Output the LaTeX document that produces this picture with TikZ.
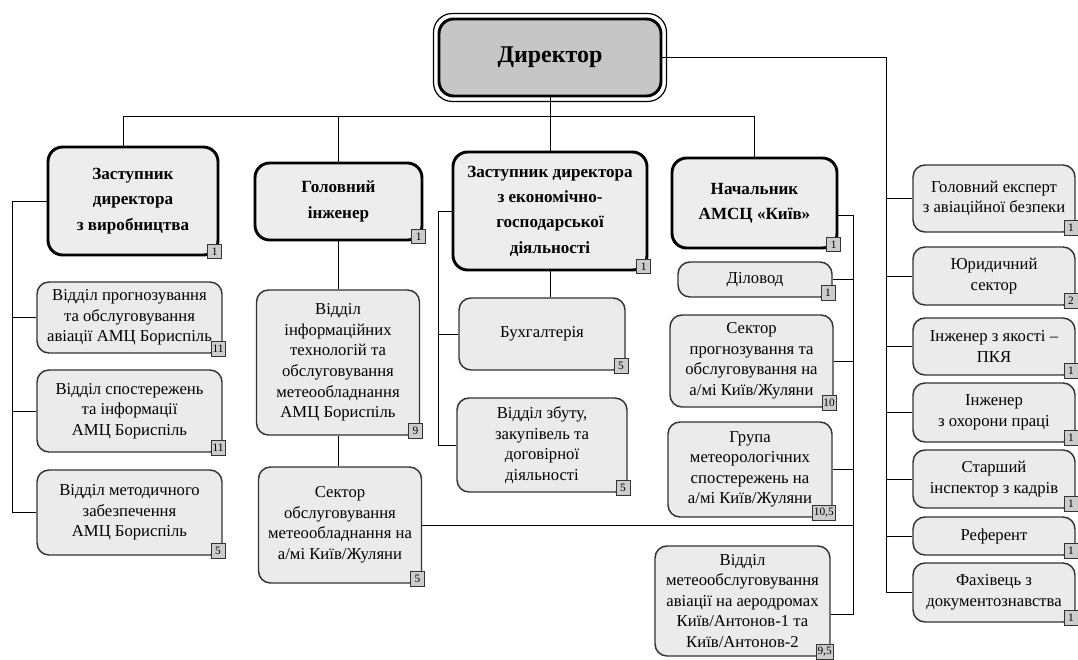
\documentclass[tikz,border=0pt]{standalone}
\usepackage{fontspec}
\setmainfont{Liberation Serif}
\usepackage{tikz}
\usetikzlibrary{backgrounds}
\tikzstyle{head}=[draw=black, line width=2.2pt, fill=gray!14, rounded corners=11pt, align=center, font=\fontsize{12.8}{19}\selectfont\bfseries, inner sep=2pt]
\tikzstyle{unit}=[draw=black!80, line width=1.1pt, fill=gray!16, rounded corners=9pt, align=center, font=\fontsize{12.5}{15.4}\selectfont, inner sep=2pt]
\tikzstyle{num}=[draw=black!80, line width=0.6pt, fill=gray!40, font=\fontsize{8.5}{9}\selectfont, inner sep=1pt, minimum width=10.5pt, minimum height=11pt]
\tikzstyle{wire}=[line width=1.6pt, black]
\tikzset{sz/.style 2 args={minimum width=#1*0.75pt, minimum height=#2*0.75pt}}

\begin{document}
\begin{tikzpicture}[x=0.75pt,y=-0.75pt]
\useasboundingbox (0,0) rectangle (1078,660);
% top
\node[draw=black, line width=2.2pt, fill=gray!45, rounded corners=11pt, sz={222}{77},
  font=\fontsize{18}{20}\selectfont\bfseries] (dir) at (550,57.5) {Директор};
\draw[line width=0.9pt, rounded corners=14pt] ([shift={(-3pt,3pt)}]dir.north west) rectangle ([shift={(3pt,-3pt)}]dir.south east);
% deputies
\node[head, sz={170}{108}] (dep1) at (133,201) {Заступник\\директора\\з виробництва};
\node[head, sz={167}{77}] (eng) at (338.5,201.5) {Головний\\інженер};
\node[head, sz={194}{118}] (dep2) at (550,211) {Заступник директора\\з економічно-\\господарської\\діяльності};
\node[head, sz={165}{90}] (chief) at (754.5,203) {Начальник\\АМСЦ «Київ»};
% units
\node[unit, sz={185}{71}] (fc) at (129.5,317.5) {Відділ прогнозування\\та обслуговування\\авіації АМЦ Бориспіль};
\node[unit, sz={185}{82}] (obs) at (129.5,411) {Відділ спостережень\\та інформації\\АМЦ Бориспіль};
\node[unit, sz={185}{85}] (meth) at (129.5,512.5) {Відділ методичного\\забезпечення\\АМЦ Бориспіль};
\node[unit, sz={163}{145}] (it) at (338,362.5) {Відділ\\інформаційних\\технологій та\\обслуговування\\метеообладнання\\АМЦ Бориспіль};
\node[unit, sz={163}{116}] (svc) at (340,525) {Сектор\\обслуговування\\метеообладнання на\\а/мі Київ/Жуляни};
\node[unit, sz={166}{72}] (acc) at (542,334) {Бухгалтерія};
\node[unit, sz={170}{94}] (sales) at (542,445) {Відділ збуту,\\закупівель та\\договірної\\діяльності};
\node[unit, sz={154}{35}] (clerk) at (755,279.5) {Діловод};
\node[unit, sz={163}{92}] (fcs) at (751.5,361) {Сектор\\прогнозування та\\обслуговування на\\а/мі Київ/Жуляни};
\node[unit, sz={164}{95}] (grp) at (750,469.5) {Група\\метеорологічних\\спостережень на\\а/мі Київ/Жуляни};
\node[unit, sz={175}{110}] (ant) at (742.5,601) {Відділ\\метеообслуговування\\авіації на аеродромах\\Київ/Антонов-1 та\\Київ/Антонов-2};
% right column
\node[unit, sz={162}{67}] (sec) at (994,198.5) {Головний експерт\\з авіаційної безпеки};
\node[unit, sz={162}{58}] (law) at (994,276) {Юридичний\\сектор};
\node[unit, sz={162}{57}] (qual) at (994,346.5) {Інженер з якості –\\ПКЯ};
\node[unit, sz={162}{59}] (safe) at (994,412.5) {Інженер\\з охорони праці};
\node[unit, sz={162}{58}] (hr) at (994,479) {Старший\\інспектор з кадрів};
\node[unit, sz={162}{38}] (ref) at (994,536) {Референт};
\node[unit, sz={162}{59}] (doc) at (994,592.5) {Фахівець з\\документознавства};
% staff numbers
\foreach \b/\n in {dep1/1,eng/1,dep2/1,chief/1,fc/11,obs/11,meth/5,it/9,svc/5,acc/5,sales/5,
  clerk/1,fcs/10,grp/{10,5},ant/{9,5},sec/1,law/2,qual/1,safe/1,hr/1,ref/1,doc/1}
  \node[num, anchor=south east] (n\b) at ([xshift=2pt,yshift=-2pt]\b.south east) {\n};
% connectors
\coordinate (lbus) at (12,0);
\coordinate (mbus) at (438,0);
\coordinate (cbus) at (853,0);
\coordinate (rbus) at (886,0);
\begin{scope}[on background layer, wire]
\draw ([xshift=-7.5pt]dep1.north) -- ++(0,-29) -| (chief.north);
\draw (eng.north) -- ++(0,-45);
\draw (dir.south) -- (dep2.north);
\draw (dir.east) -| (doc.west -| rbus) -- (doc.west);
\foreach \b in {sec,law,qual,safe,hr,ref} \draw (\b.west -| rbus) -- (\b.west);
\draw (dep1.west) -| (meth.west -| lbus) -- (meth.west);
\foreach \b in {fc,obs} \draw (\b.west -| lbus) -- (\b.west);
\draw (eng.south) -- (eng.south |- it.north);
\draw (it.south) -- (it.south |- svc.north);
\draw (dep2.west) -| (sales.west -| mbus) -- (sales.west);
\draw (acc.west -| mbus) -- (acc.west);
\draw (dep2.south) -- (dep2.south |- acc.north);
\draw ([yshift=-9pt]chief.east) -| ([yshift=-10pt]ant.east -| cbus) -- ([yshift=-10pt]ant.east);
\foreach \b in {clerk,fcs,grp} \draw (\b.east) -- (\b.east -| cbus);
\draw (svc.east) -- (svc.east -| cbus);
\end{scope}
\end{tikzpicture}
\end{document}
